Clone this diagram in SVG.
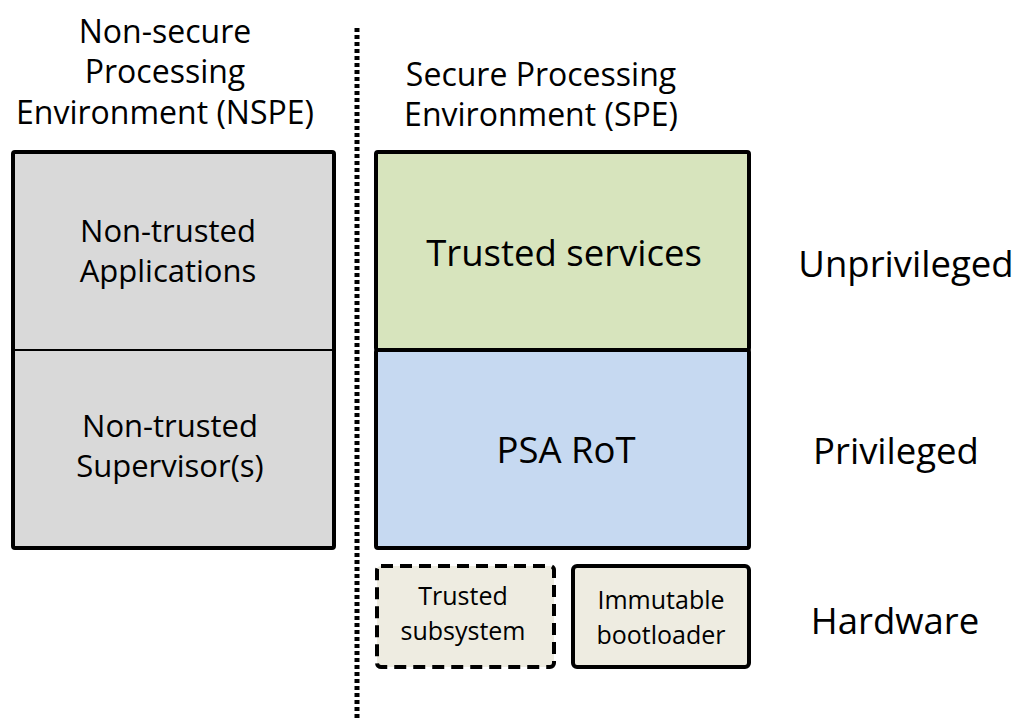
<svg xmlns="http://www.w3.org/2000/svg" width="1019" height="719" viewBox="0 0 1019 719">
<style>
text{font-family:"Open Sans","Noto Sans","Liberation Sans",sans-serif;fill:#000;text-anchor:middle}
.hdr{font-size:32px}
.lbl{font-size:31px}
.big{font-size:36.5px}
.sm{font-size:25px}
.box{stroke:#000;stroke-width:4}
</style>
<rect width="1019" height="719" fill="#fff"/>
<g id="connectors">
<line x1="357" y1="28" x2="357" y2="719" stroke="#000" stroke-width="5" stroke-dasharray="4 3"/>
</g>
<g id="nspe-title">
<text class="hdr" x="165" y="43">Non-secure</text>
<text class="hdr" x="165" y="83">Processing</text>
<text class="hdr" x="165" y="124">Environment (NSPE)</text>
</g>
<g id="spe-title">
<text class="hdr" x="541" y="86">Secure Processing</text>
<text class="hdr" x="541" y="126">Environment (SPE)</text>
</g>
<g id="nspe-box">
<rect class="box" x="13" y="152" width="321" height="396" fill="#d9d9d9" rx="2"/>
<line x1="13" y1="350" x2="334" y2="350" stroke="#000" stroke-width="2"/>
</g>
<g id="non-trusted-applications">
<text class="lbl" x="168" y="242">Non-trusted</text>
<text class="lbl" x="168" y="282">Applications</text>
</g>
<g id="non-trusted-supervisors">
<text class="lbl" x="170" y="437">Non-trusted</text>
<text class="lbl" x="170" y="477">Supervisor(s)</text>
</g>
<g id="trusted-services">
<rect class="box" x="376" y="152" width="373" height="198" fill="#d7e4bd" rx="2"/>
<text class="big" x="564" y="266">Trusted services</text>
</g>
<g id="psa-rot">
<rect class="box" x="376" y="350" width="373" height="198" fill="#c6d9f1" rx="2"/>
<text class="big" x="566" y="463">PSA RoT</text>
</g>
<g id="trusted-subsystem">
<rect class="box" x="377" y="566" width="177" height="101" fill="#eeece1" rx="4" stroke-dasharray="12 7"/>
<text class="sm" x="463" y="605">Trusted</text>
<text class="sm" x="463" y="640">subsystem</text>
</g>
<g id="immutable-bootloader">
<rect class="box" x="573" y="566" width="176" height="101" fill="#eeece1" rx="4"/>
<text class="sm" x="661" y="609">Immutable</text>
<text class="sm" x="661" y="644">bootloader</text>
</g>
<g id="level-labels">
<text class="big" x="906" y="277">Unprivileged</text>
<text class="big" x="896" y="464">Privileged</text>
<text class="big" x="895" y="634">Hardware</text>
</g>
</svg>
